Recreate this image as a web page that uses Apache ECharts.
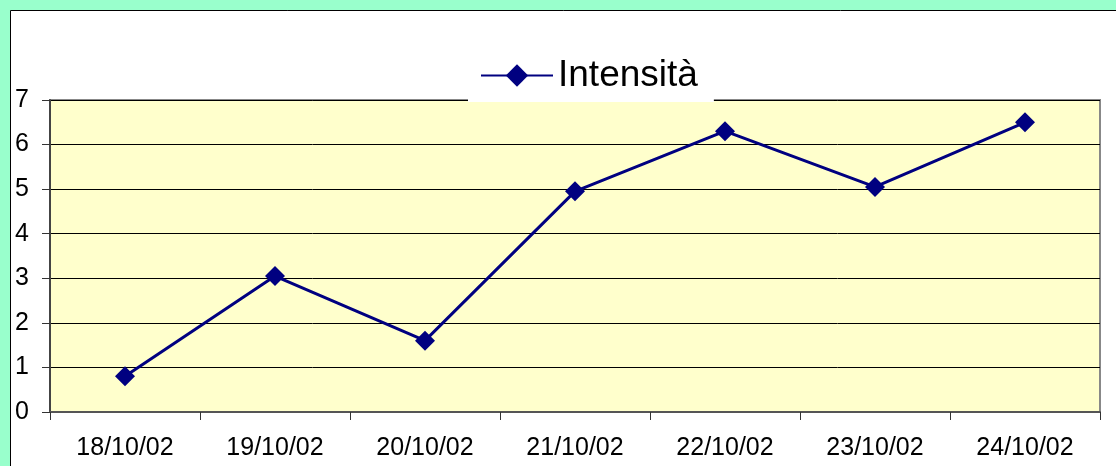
<!DOCTYPE html>
<html>
<head>
<meta charset="utf-8">
<script src="https://cdn.jsdelivr.net/npm/echarts@6/dist/echarts.min.js"></script>
<style>
html,body{margin:0;padding:0;background:#99FFCC;}
#c{width:1116px;height:466px;}
</style>
</head>
<body>
<div id="c"></div>
<script>
const categories = ['18/10/02','19/10/02','20/10/02','21/10/02','22/10/02','23/10/02','24/10/02'];
const intensita = [0.8, 3.05, 1.6, 4.95, 6.3, 5.05, 6.5];
const seriesName = 'Intensità';

const chart = echarts.init(document.getElementById('c'), null, {renderer:'canvas'});
const font = '"Liberation Sans", Arial, sans-serif';
chart.setOption({
  backgroundColor: '#99FFCC',
  animation: false,
  graphic: [{
    type: 'rect', z: -10, silent: true,
    shape: {x: 10.5, y: 10.5, width: 1200, height: 600},
    style: {fill: '#ffffff', stroke: '#000000', lineWidth: 1}
  }],
  grid: {
    left: 50, top: 100, right: 16, bottom: 54,
    show: true, backgroundColor: '#FFFFCC', borderColor: '#888888', borderWidth: 2
  },
  legend: {
    data: [seriesName],
    left: 468, top: 50,
    backgroundColor: '#ffffff',
    padding: [7, 16, 8, 12],
    itemWidth: 72, itemHeight: 28, itemGap: 5,
    textStyle: {fontSize: 37, fontFamily: font, color: '#000'}
  },
  xAxis: {
    type: 'category', data: categories, boundaryGap: true,
    axisLine: {lineStyle: {color: '#555555', width: 2}},
    axisTick: {show: true, length: 8, alignWithLabel: false, lineStyle: {color: '#333', width: 1}},
    axisLabel: {fontSize: 25, fontFamily: font, color: '#000', margin: 24}
  },
  yAxis: {
    type: 'value', min: 0, max: 7, interval: 1,
    axisLine: {show: true, lineStyle: {color: '#444444', width: 2}},
    axisTick: {show: true, length: 8, lineStyle: {color: '#333', width: 1}},
    axisLabel: {fontSize: 25, fontFamily: font, color: '#000', margin: 21},
    splitLine: {show: true, lineStyle: {color: '#000000', width: 1}}
  },
  series: [{
    name: seriesName, type: 'line', data: intensita,
    symbol: 'diamond', symbolSize: 20,
    lineStyle: {color: '#000080', width: 3},
    itemStyle: {color: '#000080'}
  }]
});
</script>
</body>
</html>
